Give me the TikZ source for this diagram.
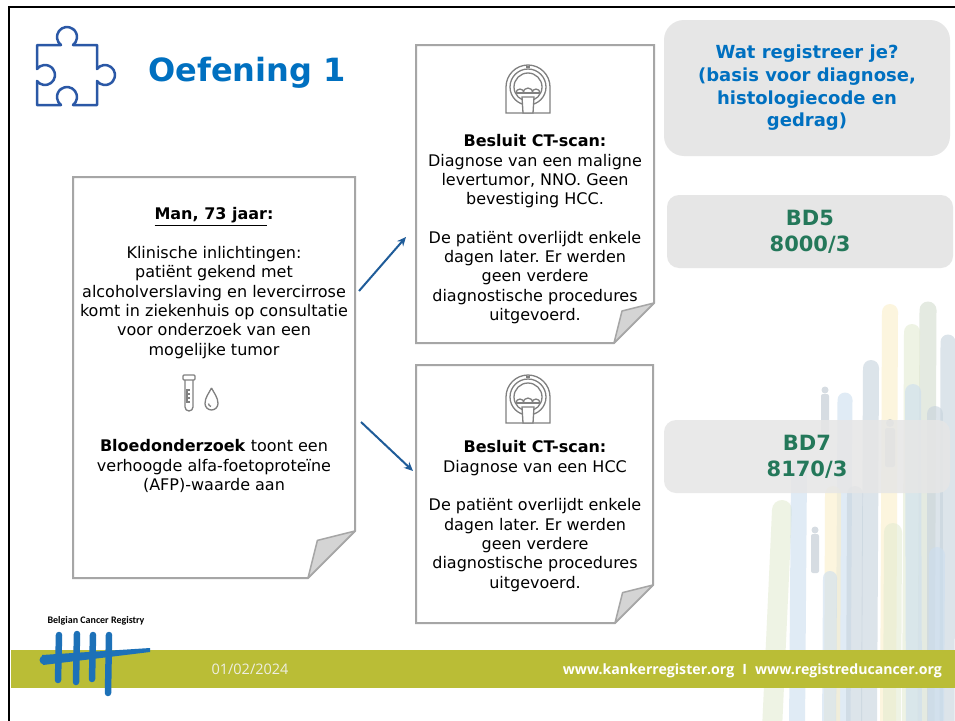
\documentclass[tikz,border=0pt]{standalone}
\usepackage{fontspec}
\setmainfont{DejaVu Sans}
\newfontfamily\webfont{Open Sans}
\newfontfamily\logofont{Carlito}
\usetikzlibrary{arrows.meta}
\frenchspacing

\definecolor{titleblue}{HTML}{0070C0}
\definecolor{puzzleblue}{HTML}{2B58A6}
\definecolor{arrowblue}{HTML}{1F5C99}
\definecolor{notegray}{HTML}{A6A6A6}
\definecolor{flapgray}{HTML}{D4D4D4}
\definecolor{boxgray}{HTML}{E6E6E6}
\definecolor{codegreen}{HTML}{24785A}
\definecolor{icongray}{HTML}{808080}
\definecolor{bandolive}{HTML}{BABD36}
\definecolor{datewhite}{HTML}{EEEEE2}
\definecolor{logoblue}{HTML}{1D71B8}
\definecolor{brushyellow}{HTML}{FBEFC8}
\definecolor{brushgreen}{HTML}{E4EBD2}
\definecolor{brushsage}{HTML}{D3DCCD}
\definecolor{brushblue}{HTML}{CCDEEF}
\definecolor{brushslate}{HTML}{C6D2DC}
\definecolor{figgray}{HTML}{AEBBC6}

\tikzset{
  notebox/.style={draw=notegray, line width=2pt, fill=white, line join=miter},
  noteflap/.style={draw=notegray, line width=1.5pt, fill=flapgray, line join=round},
  notetext/.style={align=center, inner sep=0pt, font=\fontsize{16}{19.3}\selectfont, anchor=base},
  iconline/.style={draw=icongray, line width=1.3pt},
  flowarrow/.style={draw=arrowblue, line width=2pt, -{Stealth[length=9pt,width=8pt]}},
  graybox/.style={fill=boxgray, inner sep=0pt, align=center},
  brush/.style={line cap=round, opacity=0.6},
  logostroke/.style={draw=logoblue, line width=6.5pt, line cap=round},
  ctscan/.pic={
    \draw[iconline] (-22,26) -- (-22,0) arc[start angle=180,end angle=360,radius=22] -- (22,26) -- cycle;
    \draw[iconline] (0,0) circle[radius=18];
    \draw[iconline] (0,0) circle[radius=14];
    \draw[iconline] (-2,-20) -- (2,-20);
    \draw[iconline] (-12.6,6) -- (12.6,6);
    \draw[iconline] (-12,6) arc[start angle=180,end angle=360,radius=4];
    \draw[iconline] (-5,6) arc[start angle=180,end angle=360,radius=5];
    \draw[iconline] (4,6) arc[start angle=180,end angle=360,radius=4];
    \filldraw[iconline, fill=white] (-6,10) -- (6,10) -- (5,26) -- (-5,26) -- cycle;
  }
}

% sheet of paper with a folded lower right corner: left, top, right, bottom, fold
\newcommand\notepaper[5]{%
  \draw[notebox] (#1,#2) -- (#3,#2) -- (#3,#4-#5) -- (#3-#5,#4) -- (#1,#4) -- cycle;
  \filldraw[noteflap] (#3,#4-#5) -- (#3-0.8*#5,#4-0.8*#5) -- (#3-#5,#4) -- cycle;
}

\begin{document}
\begin{tikzpicture}[x=1pt,y=-1pt]
\useasboundingbox (0,0) rectangle (955,720);
\fill[white] (0,0) rectangle (955,720);

% painted brush strokes and figures in the background
\begin{scope}
  \clip (10,0) rectangle (955,720);
  \foreach \xa/\ya/\xb/\yb/\w/\c in {
    890/312/888/730/16/brushyellow,
    928/310/926/730/17/brushsage,
    912/332/910/730/16/brushgreen,
    948/342/947/730/15/brushslate,
    871/368/869/730/16/brushslate,
    845/400/843/730/15/brushblue,
    913/392/914/730/16/brushblue,
    935/414/935/730/16/brushslate,
    782/510/772/730/20/brushgreen,
    799/468/797/730/16/brushblue,
    833/494/832/730/16/brushyellow,
    855/494/854/730/16/brushslate,
    830/578/829/730/14/brushblue,
    893/532/892/730/18/brushgreen,
    937/555/936/730/16/brushblue}
    \draw[brush, line width=\w pt, draw=\c] (\xa,\ya) -- (\xb,\yb);
  \fill[figgray, opacity=0.5] (825,390) circle[radius=3.5];
  \fill[figgray, opacity=0.5, rounded corners=2pt] (821,394) rectangle (829,433);
  \fill[figgray, opacity=0.5] (890,423) circle[radius=4];
  \fill[figgray, opacity=0.5, rounded corners=2pt] (885,428) rectangle (895,467);
  \fill[figgray, opacity=0.5] (815,530) circle[radius=3.5];
  \fill[figgray, opacity=0.5, rounded corners=2pt] (811,534) rectangle (819,573);
\end{scope}

% slide frame
\draw[line width=2.5pt] (9,725) -- (9,7) -- (960,7);

% puzzle piece
\draw[puzzleblue, line width=2.5pt, line join=round]
  (37,45) -- (61,45) arc[start angle=126.87,end angle=413.13,radius=10]
  -- (97,45) -- (97,69) arc[start angle=216.87,end angle=503.13,radius=10]
  -- (97,105) -- (73,105) arc[start angle=53.13,end angle=-233.13,radius=10]
  -- (37,105) -- (37,81) arc[start angle=143.13,end angle=-143.13,radius=10]
  -- cycle;

\node[anchor=base west, inner sep=0pt, font=\fontsize{32}{38}\selectfont\bfseries, text=titleblue] (title) at (148,81) {Oefening 1};

% case description (each text node sits on the baseline of its last line)
\notepaper{73}{177}{355}{578}{47}
\node[notetext] (case) at (214,355) {\textbf{\underline{Man, 73 jaar}:}\\[19.3pt]
  Klinische inlichtingen:\\
  patiënt gekend met\\
  alcoholverslaving en levercirrose\\
  komt in ziekenhuis op consultatie\\
  voor onderzoek van een\\
  mogelijke tumor};

% test tube and drop
\draw[iconline] (185,380) -- (185,407) arc[start angle=180,end angle=0,radius=4] -- (193,380);
\draw[iconline, rounded corners=1pt] (183,375) rectangle (195,380);
\draw[iconline] (187,389) -- (187,403);
\foreach \t in {390,394,398,402} \draw[iconline] (187,\t) -- (189.5,\t);
\draw[iconline] (211.5,388) .. controls (209,393) and (205,397.5) .. (205,403.5)
  arc[start angle=180,end angle=0,radius=6.5] .. controls (218,397.5) and (214,393) .. (211.5,388);
\draw[iconline] (208.5,403.5) arc[start angle=180,end angle=100,radius=3];

\node[notetext] (blood) at (214,490.5) {\textbf{Bloedonderzoek} toont een\\
  verhoogde alfa-foetoproteïne\\
  (AFP)-waarde aan};

% first CT outcome
\notepaper{416}{45}{654}{343}{40}
\pic at (528,87) {ctscan};
\node[notetext] (ctone) at (535,320.5) {\textbf{Besluit CT-scan:}\\
  Diagnose van een maligne\\
  levertumor, NNO. Geen\\
  bevestiging HCC.\\[19.3pt]
  De patiënt overlijdt enkele\\
  dagen later. Er werden\\
  geen verdere\\
  diagnostische procedures\\
  uitgevoerd.};

% second CT outcome
\notepaper{416}{365}{653}{623}{38}
\pic at (528,397) {ctscan};
\node[notetext] (cttwo) at (535,588) {\textbf{Besluit CT-scan:}\\
  Diagnose van een HCC\\[19.3pt]
  De patiënt overlijdt enkele\\
  dagen later. Er werden\\
  geen verdere\\
  diagnostische procedures\\
  uitgevoerd.};

% arrows from the case to both outcomes
\coordinate (upfrom) at (359,291);
\coordinate (upto) at (406,237);
\coordinate (downfrom) at (361,422);
\coordinate (downto) at (413,471);
\draw[flowarrow] (upfrom) -- (upto);
\draw[flowarrow] (downfrom) -- (downto);

% answer boxes
\node[graybox, rounded corners=20pt, minimum width=286pt, minimum height=136pt, text=titleblue,
  font=\fontsize{18}{22.7}\selectfont\bfseries] (question) at (807,88)
  {Wat registreer je?\\(basis voor diagnose,\\histologiecode en\\gedrag)};
\node[graybox, rounded corners=12pt, minimum width=286pt, minimum height=73pt, text=codegreen,
  font=\fontsize{21}{26}\selectfont\bfseries] (bdfive) at (810,231.5) {BD5\\8000/3};
\node[graybox, fill opacity=0.85, text opacity=1, rounded corners=12pt, minimum width=286pt,
  minimum height=73pt, text=codegreen, font=\fontsize{21}{26}\selectfont\bfseries]
  (bdseven) at (807,456.5) {BD7\\8170/3};

% footer band
\fill[bandolive] (10.5,650) rectangle (955,688);
\node[anchor=base, inner sep=0pt, text=datewhite, font=\webfont\fontsize{14.5}{16}\selectfont] (date) at (250,674) {01/02/2024};
\node[anchor=base east, inner sep=0pt, text=white, font=\webfont\bfseries\fontsize{14}{16}\selectfont] (web) at (942,674)
  {\resizebox{379pt}{!}{www.kankerregister.org\hspace{8pt}I\hspace{8pt}www.registreducancer.org}};

% logo
\node[anchor=base, inner sep=0pt, font=\logofont\bfseries\fontsize{10}{11}\selectfont] (brand) at (96,623) {Belgian Cancer Registry};
\draw[logostroke] (59,635) -- (58,680);
\draw[logostroke] (77,634) -- (76,682);
\draw[logostroke] (93,635) -- (92,679);
\draw[logostroke] (109,635) -- (108,693);
\fill[logoblue] (42,655) -- (150,648) -- (150,652) -- (43,665) -- cycle;
\fill[logoblue] (44,660) circle[radius=4.5];
\end{tikzpicture}
\end{document}
